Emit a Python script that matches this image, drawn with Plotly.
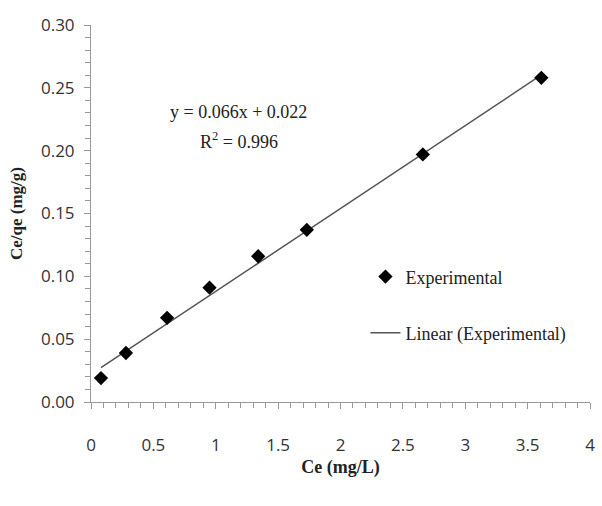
import plotly.graph_objects as go

ce = [0.08, 0.28, 0.61, 0.95, 1.34, 1.73, 2.66, 3.61]
ce_qe = [0.019, 0.039, 0.067, 0.091, 0.116, 0.137, 0.197, 0.258]
slope = 0.066
intercept = 0.022
x_ticks = [0, 0.5, 1, 1.5, 2, 2.5, 3, 3.5, 4]
x_tick_labels = ["0", "0.5", "1", "1.5", "2", "2.5", "3", "3.5", "4"]
y_ticks = [0, 0.05, 0.10, 0.15, 0.20, 0.25, 0.30]
y_tick_labels = ["0.00", "0.05", "0.10", "0.15", "0.20", "0.25", "0.30"]

line_x = [min(ce), max(ce)]
line_y = [slope * v + intercept for v in line_x]

serif = "Liberation Serif"
sans = "Open Sans"

fig = go.Figure()
fig.add_trace(go.Scatter(
    x=line_x, y=line_y, mode="lines", name="Linear (Experimental)",
    line=dict(color="#555555", width=1.5), legend="legend2"))
fig.add_trace(go.Scatter(
    x=ce, y=ce_qe, mode="markers", name="Experimental",
    marker=dict(symbol="diamond", size=11, color="black"), legend="legend"))

fig.update_layout(
    width=602, height=506,
    margin=dict(l=91, r=7, t=25, b=104),
    plot_bgcolor="white", paper_bgcolor="white",
    showlegend=True,
    legend=dict(x=0.55, y=0.332, xanchor="left", yanchor="middle",
                font=dict(family=serif, size=18, color="#222"),
                bgcolor="rgba(0,0,0,0)"),
    legend2=dict(x=0.55, y=0.183, xanchor="left", yanchor="middle",
                 font=dict(family=serif, size=18, color="#222"),
                 bgcolor="rgba(0,0,0,0)"),
    xaxis=dict(range=[0, 4], tickvals=x_ticks, ticktext=x_tick_labels,
               showgrid=False, zeroline=False, showline=True,
               linecolor="#999", linewidth=1,
               ticks="outside", ticklen=6, tickcolor="#999",
               ticklabelstandoff=22,
               minor=dict(dtick=0.1, ticks="outside", ticklen=5, tickcolor="#999"),
               tickfont=dict(family=sans, size=17, color="#333"),
               title=dict(text="<b>Ce (mg/L)</b>", font=dict(family=serif, size=18, color="#222"),
                          standoff=4)),
    yaxis=dict(range=[0, 0.30], tickvals=y_ticks, ticktext=y_tick_labels,
               showgrid=False, zeroline=False, showline=True,
               linecolor="#999", linewidth=1,
               ticks="outside", ticklen=6, tickcolor="#999",
               ticklabelstandoff=6,
               minor=dict(dtick=0.01, ticks="outside", ticklen=5, tickcolor="#999"),
               tickfont=dict(family=sans, size=17, color="#333"),
               title=dict(text="<b>Ce/qe (mg/g)</b>", font=dict(family=serif, size=17, color="#222"),
                          standoff=14)),
)

fig.add_annotation(x=(240 - 91) / 126, y=(402 - 112) / 1257, xref="x", yref="y",
                   showarrow=False, text="y = 0.066x + 0.022",
                   font=dict(family=serif, size=18, color="#222"))
fig.add_annotation(x=(240 - 91) / 126, y=(402 - 140) / 1257, xref="x", yref="y",
                   showarrow=False, text="R<sup>2</sup> = 0.996",
                   font=dict(family=serif, size=18, color="#222"))

fig.write_html("out.html")
